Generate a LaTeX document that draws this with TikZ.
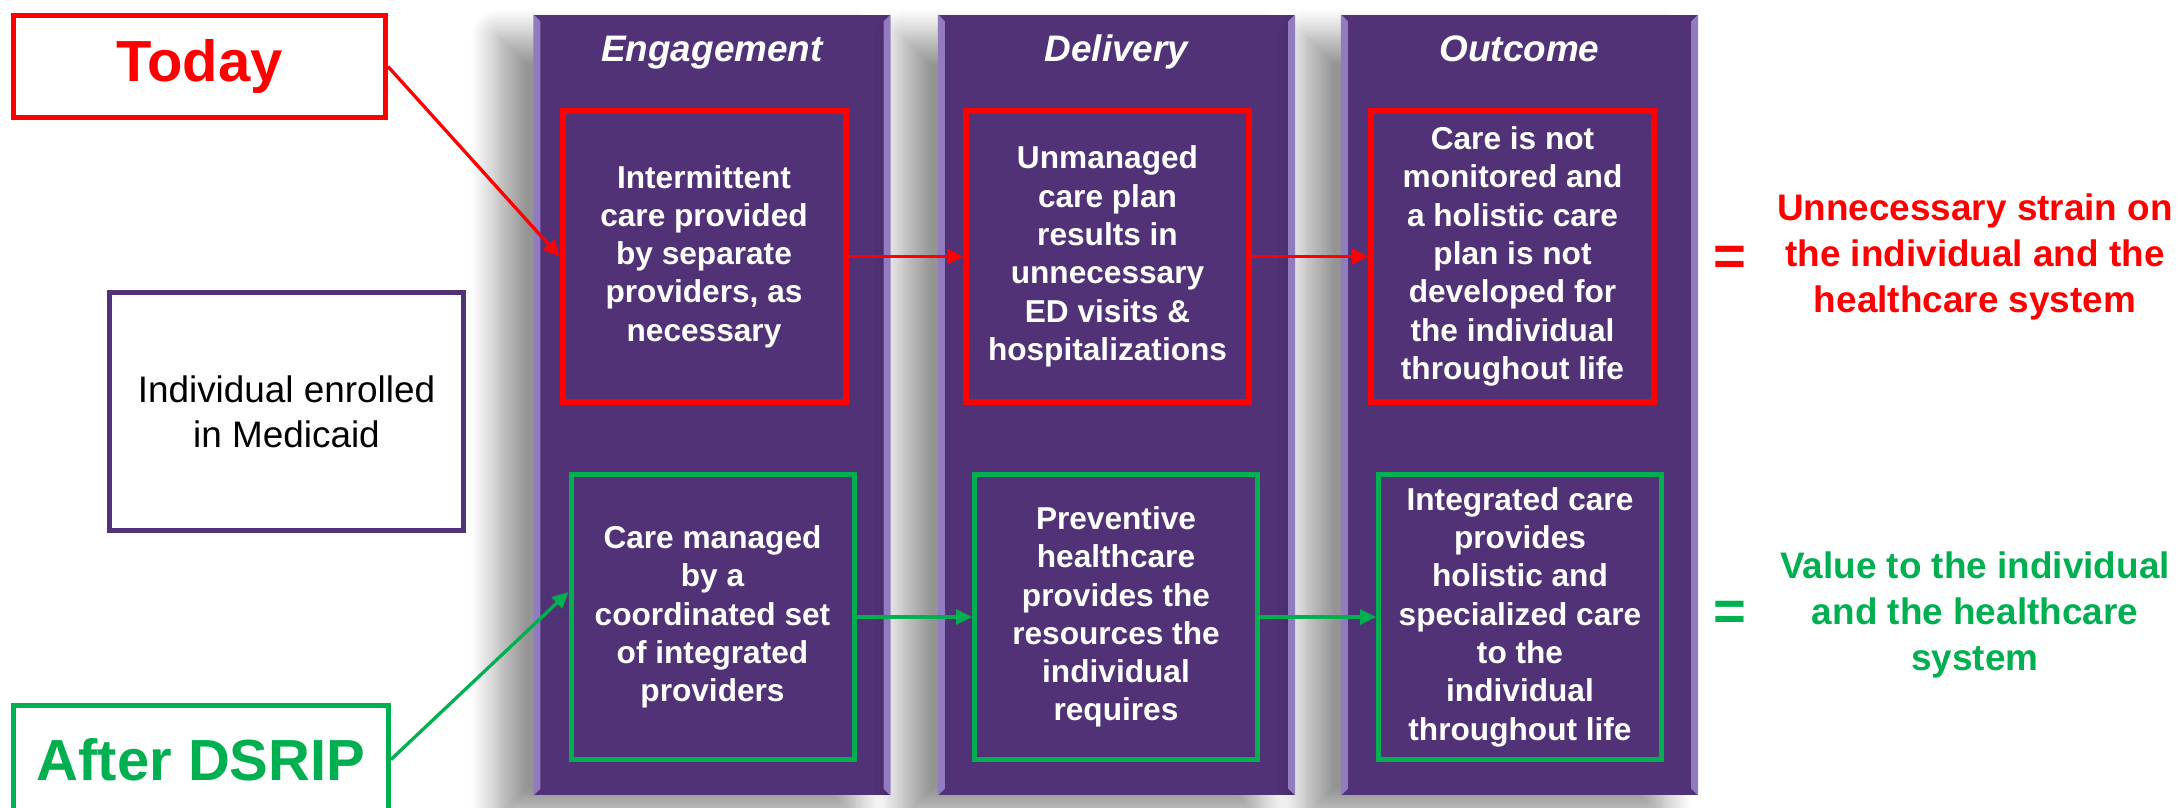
\documentclass[tikz,border=0pt]{standalone}
\usepackage{fontspec}
\setmainfont{Liberation Sans}
\usetikzlibrary{arrows.meta,shadows.blur}
\definecolor{dsrippurple}{RGB}{81,50,118}
\definecolor{dsripbevel}{RGB}{146,124,192}
\definecolor{dsripred}{RGB}{255,0,0}
\definecolor{dsripgreen}{RGB}{0,176,80}
\begin{document}
\begin{tikzpicture}[
  column/.style={fill=dsrippurple, inner sep=0pt, minimum width=3.56cm, minimum height=7.80cm,
    blur shadow={shadow xshift=-0.35cm, shadow yshift=-0.22cm, shadow blur radius=0.28cm, shadow blur steps=15, shadow opacity=42}},
  bevel/.style={fill=dsripbevel},
  heading/.style={text=white, text height=0.72em, text depth=0pt, font=\fontsize{10.5}{12.6}\selectfont\bfseries\itshape},
  stepred/.style={draw=dsripred, line width=0.06cm, inner sep=0pt, minimum width=2.83cm, minimum height=2.91cm,
    text=white, align=center, font=\fontsize{9}{10.9}\selectfont\bfseries},
  stepgreen/.style={draw=dsripgreen, line width=0.05cm, inner sep=0pt, minimum width=2.83cm, minimum height=2.85cm,
    text=white, align=center, font=\fontsize{9}{10.9}\selectfont\bfseries},
  tagbox/.style={line width=0.05cm, fill=white, inner sep=0pt, font=\fontsize{16.5}{19}\selectfont\bfseries},
  result/.style={align=center, font=\fontsize{10.5}{13.1}\selectfont\bfseries},
  equals/.style={font=\fontsize{16}{19}\selectfont\bfseries},
  redarrow/.style={draw=dsripred, line width=0.033cm, -{Triangle[length=0.16cm,width=0.15cm]}},
  greenarrow/.style={draw=dsripgreen, line width=0.033cm, -{Triangle[length=0.16cm,width=0.15cm]}}
]
\useasboundingbox (0,0) rectangle (21.79,8.07);

\node[column] (eng) at (7.12,4.02) {};
\node[column] (del) at (11.165,4.02) {};
\node[column] (out) at (15.195,4.02) {};
\fill[bevel] (eng.north west) -- ++(0.07,-0.07) -- ([shift={(0.07,0.07)}]eng.south west) -- (eng.south west) -- cycle;
\fill[bevel] (eng.north east) -- ++(-0.07,-0.07) -- ([shift={(-0.07,0.07)}]eng.south east) -- (eng.south east) -- cycle;
\fill[bevel] (del.north west) -- ++(0.07,-0.07) -- ([shift={(0.07,0.07)}]del.south west) -- (del.south west) -- cycle;
\fill[bevel] (del.north east) -- ++(-0.07,-0.07) -- ([shift={(-0.07,0.07)}]del.south east) -- (del.south east) -- cycle;
\fill[bevel] (out.north west) -- ++(0.07,-0.07) -- ([shift={(0.07,0.07)}]out.south west) -- (out.south west) -- cycle;
\fill[bevel] (out.north east) -- ++(-0.07,-0.07) -- ([shift={(-0.07,0.07)}]out.south east) -- (out.south east) -- cycle;

\node[heading] (enghead) at (7.12,7.58) {Engagement};
\node[heading] (delhead) at (11.165,7.58) {Delivery};
\node[heading] (outhead) at (15.195,7.58) {Outcome};

\node[stepred] (r1) at (7.04,5.505) {Intermittent\\care provided\\by separate\\providers, as\\necessary};
\node[stepred] (r2) at (11.075,5.505) {Unmanaged\\care plan\\results in\\unnecessary\\ED visits \&\\hospitalizations};
\node[stepred] (r3) at (15.125,5.505) {Care is not\\monitored and\\a holistic care\\plan is not\\developed for\\the individual\\throughout life};

\node[stepgreen] (g1) at (7.125,1.90) {Care managed\\by a\\coordinated set\\of integrated\\providers};
\node[stepgreen] (g2) at (11.16,1.90) {Preventive\\healthcare\\provides the\\resources the\\individual\\requires};
\node[stepgreen] (g3) at (15.20,1.90) {Integrated care\\provides\\holistic and\\specialized care\\to the\\individual\\throughout life};

\node[tagbox, draw=dsripred, text=dsripred, minimum width=3.72cm, minimum height=1.02cm] (today) at (1.995,7.405) {Today};
\node[tagbox, draw=dsripgreen, text=dsripgreen, minimum width=3.75cm, minimum height=1.08cm] (after) at (2.01,0.475) {After DSRIP};
\node[draw=dsrippurple, line width=0.05cm, inner sep=0pt, minimum width=3.54cm, minimum height=2.38cm, align=center,
  font=\fontsize{10.5}{12.8}\selectfont] (enrolled) at (2.865,3.955) {Individual enrolled\\in Medicaid};

\node[equals, text=dsripred] (redeq) at (17.30,5.46) {=};
\node[equals, text=dsripgreen] (greeneq) at (17.30,1.915) {=};
\node[result, text=dsripred] (strain) at (19.75,5.50) {Unnecessary strain on\\the individual and the\\healthcare system};
\node[result, text=dsripgreen] (value) at (19.75,1.92) {Value to the individual\\and the healthcare\\system};

\draw[redarrow] (today.east) -- (r1.west);
\draw[redarrow] (r1.east) -- (r2.west);
\draw[redarrow] (r2.east) -- (r3.west);
\draw[greenarrow] (after.east) -- ([yshift=0.25cm]g1.west);
\draw[greenarrow] (g1.east) -- (g2.west);
\draw[greenarrow] (g2.east) -- (g3.west);
\end{tikzpicture}
\end{document}
